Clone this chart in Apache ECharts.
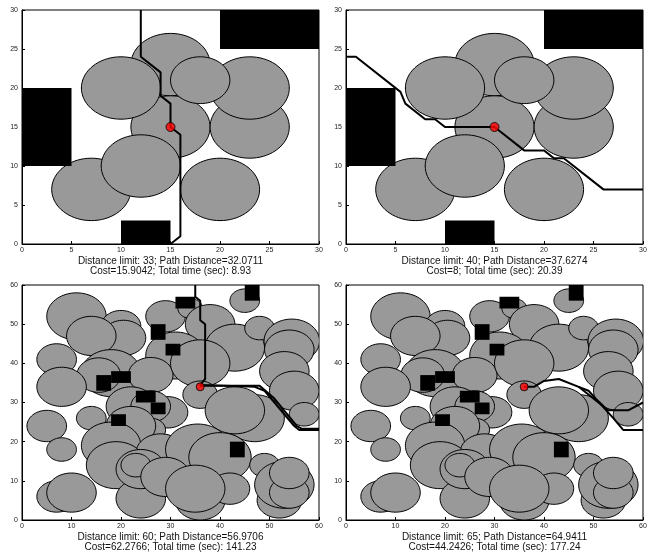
<!DOCTYPE html>
<html>
<head>
<meta charset="utf-8">
<script src="https://cdn.jsdelivr.net/npm/echarts@6/dist/echarts.min.js"></script>
<style>
  html, body { margin: 0; padding: 0; background: #fff; }
  #chart { width: 654px; height: 554px; }
</style>
</head>
<body>
<div id="chart"></div>
<script>
// obstacles: [cx, cy, r] in map units
const smallCircles = [
  [15, 23, 4], [15, 15, 4], [23, 15, 4], [23, 20, 4], [10, 20, 4],
  [18, 21, 3], [7, 7, 4], [12, 10, 4], [20, 7, 4]
];
// blocks: [x0, x1, y0, y1]
const smallBlocks = [[20, 30, 25, 30], [0, 5, 10, 20], [10, 15, 0, 3]];

const bigCircles = [
  [11, 52, 6], [20, 49.5, 4], [20.5, 46.5, 4.5], [14, 47, 5],
  [7, 41, 4], [18, 37.5, 6], [15.5, 37, 4.4], [8, 34, 5],
  [29, 52, 4], [34, 54, 2.5], [38, 50, 5], [31, 42, 6], [26, 37, 4.5],
  [43, 44, 6], [36, 40, 6], [45, 56, 3], [48, 49, 3],
  [54.5, 45.7, 5.6], [54, 43.5, 5], [53, 38, 5], [55, 33, 5], [57, 27, 3],
  [22, 29, 5], [29.5, 27.5, 4], [26, 29, 4], [26, 23, 3], [36, 32, 3.5],
  [47, 26, 6], [43, 28, 6],
  [5, 24, 4], [8, 18, 3], [14, 26, 3], [22, 24, 5], [18, 19, 6], [28, 17, 5],
  [35.5, 18, 6.5], [40, 16, 6.3],
  [19, 14, 6], [24, 5.5, 5], [24, 13, 5], [23, 14, 3], [7, 6, 4], [10, 7, 5],
  [29, 11, 5], [36, 5, 5], [42, 8, 4], [35, 8, 6], [49, 14, 3],
  [52, 5, 4.5], [53, 9, 6], [54, 7, 4], [54, 12, 4]
];
const bigBlocks = [
  [31, 35, 54, 57], [45, 48, 56, 60], [26, 29, 46, 50], [29, 32, 42, 45],
  [15, 18, 33, 37], [18, 22, 35, 38], [23, 27, 30, 33], [26, 29, 27, 30],
  [18, 21, 24, 27], [42, 45, 16, 20]
];

// planned paths
const pathA = [[12, 30], [12, 24], [14, 22], [14, 19], [15, 18], [15, 15], [16, 14], [16, 1], [15, 0]];
const pathB = [[0, 24], [1, 24], [5.5, 19.5], [6, 18], [8, 16], [9, 16], [10, 15], [15, 15],
  [18, 12], [20, 12], [21, 11], [22, 11], [26, 7], [30, 7]];
const pathC = [[35, 60], [35, 57], [36, 56], [36, 51], [37, 50], [37, 36], [36, 34.5], [36, 34],
  [47, 34], [49, 33], [55, 24], [56, 23], [60, 23]];
const pathC2 = [[36, 34.3], [48, 34.3], [51, 31], [55.5, 24], [56.5, 23.3], [60, 23.3]];
const pathD = [[36, 34], [38, 34], [40, 35.5], [43, 36], [47, 34], [51, 30], [53, 28], [57, 28], [60, 30]];
const pathD2 = [[47, 34], [49, 33], [54, 26], [56, 23], [60, 23]];

const robotSmall = [15, 15];
const robotBig = [36, 34];

const smallTicks = [0, 5, 10, 15, 20, 25, 30];
const bigTicks = [0, 10, 20, 30, 40, 50, 60];

const captions = [
  ['Distance limit: 33; Path Distance=32.0711', 'Cost=15.9042; Total time (sec): 8.93'],
  ['Distance limit: 40; Path Distance=37.6274', 'Cost=8; Total time (sec): 20.39'],
  ['Distance limit: 60; Path Distance=56.9706', 'Cost=62.2766; Total time (sec): 141.23'],
  ['Distance limit: 65; Path Distance=64.9411', 'Cost=44.2426; Total time (sec): 177.24']
];

const FONT = '"Liberation Sans Narrow", "Liberation Sans", Arial, sans-serif';

const panels = [
  { left: 22, top: 10, height: 234, ticks: smallTicks, circles: smallCircles, blocks: smallBlocks, paths: [pathA], robot: robotSmall, dot: 9 },
  { left: 346, top: 10, height: 234, ticks: smallTicks, circles: smallCircles, blocks: smallBlocks, paths: [pathB], robot: robotSmall, dot: 9 },
  { left: 22, top: 285, height: 235, ticks: bigTicks, circles: bigCircles, blocks: bigBlocks, paths: [pathC, pathC2], robot: robotBig, dot: 8 },
  { left: 346, top: 285, height: 235, ticks: bigTicks, circles: bigCircles, blocks: bigBlocks, paths: [pathD, pathD2], robot: robotBig, dot: 8 }
];
const PW = 297;

function ellipseItem(params, api) {
  const cx = api.value(0), cy = api.value(1), r = api.value(2);
  const pts = [];
  for (let k = 0; k < 72; k++) {
    const t = (k / 72) * Math.PI * 2;
    pts.push(api.coord([cx + r * Math.cos(t), cy + r * Math.sin(t)]));
  }
  return {
    type: 'polygon',
    shape: { points: pts },
    style: { fill: '#999999', stroke: '#000', lineWidth: 1 }
  };
}

function blockItem(params, api) {
  const a = api.coord([api.value(0), api.value(3)]);
  const b = api.coord([api.value(1), api.value(2)]);
  return {
    type: 'rect',
    shape: { x: a[0], y: a[1], width: b[0] - a[0], height: b[1] - a[1] },
    style: { fill: '#000' }
  };
}

const grid = [], xAxis = [], yAxis = [], series = [], graphic = [];

panels.forEach((p, i) => {
  const max = p.ticks[p.ticks.length - 1];
  const step = p.ticks[1] - p.ticks[0];
  grid.push({ left: p.left, top: p.top, width: PW, height: p.height, show: true, borderColor: '#000', borderWidth: 1 });
  const axisCommon = {
    gridIndex: i, type: 'value', min: 0, max: max, interval: step,
    axisLine: { onZero: false, lineStyle: { color: '#000', width: 1 } },
    axisTick: { inside: true, length: 3, lineStyle: { color: '#000' } },
    axisLabel: { fontSize: 7, color: '#222', fontFamily: FONT, margin: 3 },
    splitLine: { show: false }
  };
  xAxis.push(Object.assign({}, axisCommon));
  yAxis.push(Object.assign({}, axisCommon, { axisLabel: Object.assign({}, axisCommon.axisLabel, { margin: 4 }) }));

  series.push({
    type: 'custom', xAxisIndex: i, yAxisIndex: i, clip: true, z: 2,
    renderItem: ellipseItem, encode: { x: 0, y: 1 }, data: p.circles, silent: true
  });
  series.push({
    type: 'custom', xAxisIndex: i, yAxisIndex: i, clip: true, z: 3,
    renderItem: blockItem, encode: { x: [0, 1], y: [2, 3] }, data: p.blocks, silent: true
  });
  p.paths.forEach(path => {
    series.push({
      type: 'line', xAxisIndex: i, yAxisIndex: i, z: 4, showSymbol: false, silent: true,
      lineStyle: { color: '#000', width: 2 }, data: path, animation: false
    });
  });
  series.push({
    type: 'scatter', xAxisIndex: i, yAxisIndex: i, z: 5, symbolSize: p.dot,
    itemStyle: { color: '#ff0000', borderColor: '#000', borderWidth: 1 },
    data: [p.robot]
  });

  const cx = p.left + PW / 2;
  const y0 = p.top + p.height + 17;
  captions[i].forEach((line, k) => {
    graphic.push({
      type: 'text', x: cx, y: y0 + k * 10,
      style: { text: line, x: 0, y: 0, fill: '#111', font: '10px ' + FONT, textAlign: 'center', textVerticalAlign: 'middle' }
    });
  });
});

const chart = echarts.init(document.getElementById('chart'), null, { renderer: 'canvas' });
chart.setOption({
  animation: false,
  backgroundColor: '#fff',
  grid, xAxis, yAxis, series, graphic
});
window.addEventListener('resize', () => chart.resize());
</script>
</body>
</html>
